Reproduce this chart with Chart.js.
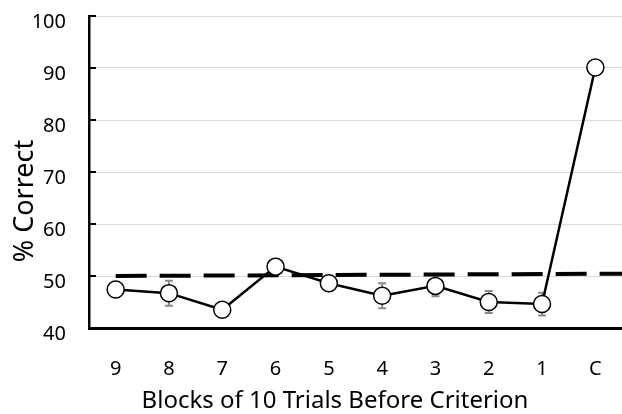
<!DOCTYPE html>
<html><head><meta charset="utf-8">
<script src="https://cdn.jsdelivr.net/npm/chart.js@4.4.1/dist/chart.umd.min.js"></script>
<style>html,body{margin:0;padding:0;background:#fff}#wrap{width:622px;height:414px;position:relative}</style>
</head><body><div id="wrap"><canvas id="c"></canvas></div>
<script>
const categories = ['9','8','7','6','5','4','3','2','1','C'];
const percentCorrect = [47.4, 46.7, 43.5, 51.8, 48.6, 46.2, 48.1, 45.0, 44.6, 90.1];
const errorSEM = [1.5, 2.4, 1.5, 1.5, 1.5, 2.4, 2.0, 2.1, 2.2, 1.0];
const chanceX = [0, 9.5];
const chanceY = [50.0, 50.45];
const yMin = 40, yMax = 100, yStep = 10;
const xTitle = 'Blocks of 10 Trials Before Criterion';
const yTitle = '% Correct';

Chart.defaults.font.family = "'Noto Sans', sans-serif";
Chart.defaults.color = '#000';

const errorBars = {
  id: 'errorBars',
  beforeDatasetsDraw(chart) {
    const ctx = chart.ctx, x = chart.scales.x, y = chart.scales.y;
    ctx.save();
    ctx.strokeStyle = '#8a8a8a';
    ctx.lineWidth = 2;
    percentCorrect.forEach((v, i) => {
      const px = x.getPixelForValue(i);
      const t = y.getPixelForValue(v + errorSEM[i]);
      const b = y.getPixelForValue(v - errorSEM[i]);
      ctx.beginPath();
      ctx.moveTo(px, t); ctx.lineTo(px, b);
      ctx.moveTo(px - 4, t); ctx.lineTo(px + 4, t);
      ctx.moveTo(px - 4, b); ctx.lineTo(px + 4, b);
      ctx.stroke();
    });
    ctx.restore();
  }
};

const innerTicks = {
  id: 'innerTicks',
  afterDatasetsDraw(chart) {
    const ctx = chart.ctx, y = chart.scales.y;
    ctx.save();
    ctx.strokeStyle = '#000';
    ctx.lineWidth = 2;
    y.ticks.forEach((t, i) => {
      const py = y.getPixelForTick(i);
      ctx.beginPath();
      ctx.moveTo(y.right, py); ctx.lineTo(y.right + 7, py);
      ctx.stroke();
    });
    ctx.restore();
  }
};

const titlesPlugin = {
  id: 'titlesPlugin',
  afterDraw(chart) {
    const ctx = chart.ctx;
    ctx.save();
    ctx.fillStyle = '#000';
    ctx.textAlign = 'center';
    ctx.textBaseline = 'alphabetic';
    ctx.font = "24px 'Noto Sans', sans-serif";
    ctx.fillText(xTitle, 335, 408);
    ctx.translate(33, 201);
    ctx.rotate(-Math.PI / 2);
    ctx.font = "27px 'Noto Sans', sans-serif";
    ctx.fillText(yTitle, 0, 0);
    ctx.restore();
  }
};

new Chart(document.getElementById('c'), {
  type: 'line',
  data: {
    labels: categories,
    datasets: [
      {
        data: percentCorrect,
        borderColor: '#000',
        borderWidth: 2.5,
        pointRadius: 8.5,
        pointHoverRadius: 8.5,
        pointBackgroundColor: '#fff',
        pointBorderColor: '#000',
        pointBorderWidth: 1.5,
        tension: 0
      },
      {
        xAxisID: 'x2',
        data: chanceX.map((x, i) => ({ x: x, y: chanceY[i] })),
        borderColor: '#000',
        borderWidth: 4,
        borderDash: [31, 13],
        pointRadius: 0,
        tension: 0
      }
    ]
  },
  options: {
    responsive: true,
    maintainAspectRatio: false,
    animation: false,
    layout: { autoPadding: false, padding: { top: 16, right: 0, left: 0, bottom: 0 } },
    plugins: { legend: { display: false }, tooltip: { enabled: false } },
    scales: {
      x: {
        type: 'category',
        offset: true,
        grid: { display: false, drawTicks: false },
        border: { color: '#000', width: 3 },
        ticks: { font: { size: 20 }, padding: 29, color: '#000' },
        afterFit(s) { s.height = 86; s.paddingLeft = 0; s.paddingRight = 0; }
      },
      x2: {
        type: 'linear',
        display: false,
        min: -0.5,
        max: 9.5
      },
      y: {
        min: yMin, max: yMax,
        ticks: { stepSize: yStep, font: { size: 20 }, padding: 23, labelOffset: 6, color: '#000' },
        grid: { color: '#d9d9d9', lineWidth: 1, drawTicks: false },
        border: { color: '#000', width: 2.5 },
        afterFit(s) { s.width = 89; s.paddingTop = 0; s.paddingBottom = 0; }
      }
    }
  },
  plugins: [errorBars, innerTicks, titlesPlugin]
});
</script>
</body></html>
